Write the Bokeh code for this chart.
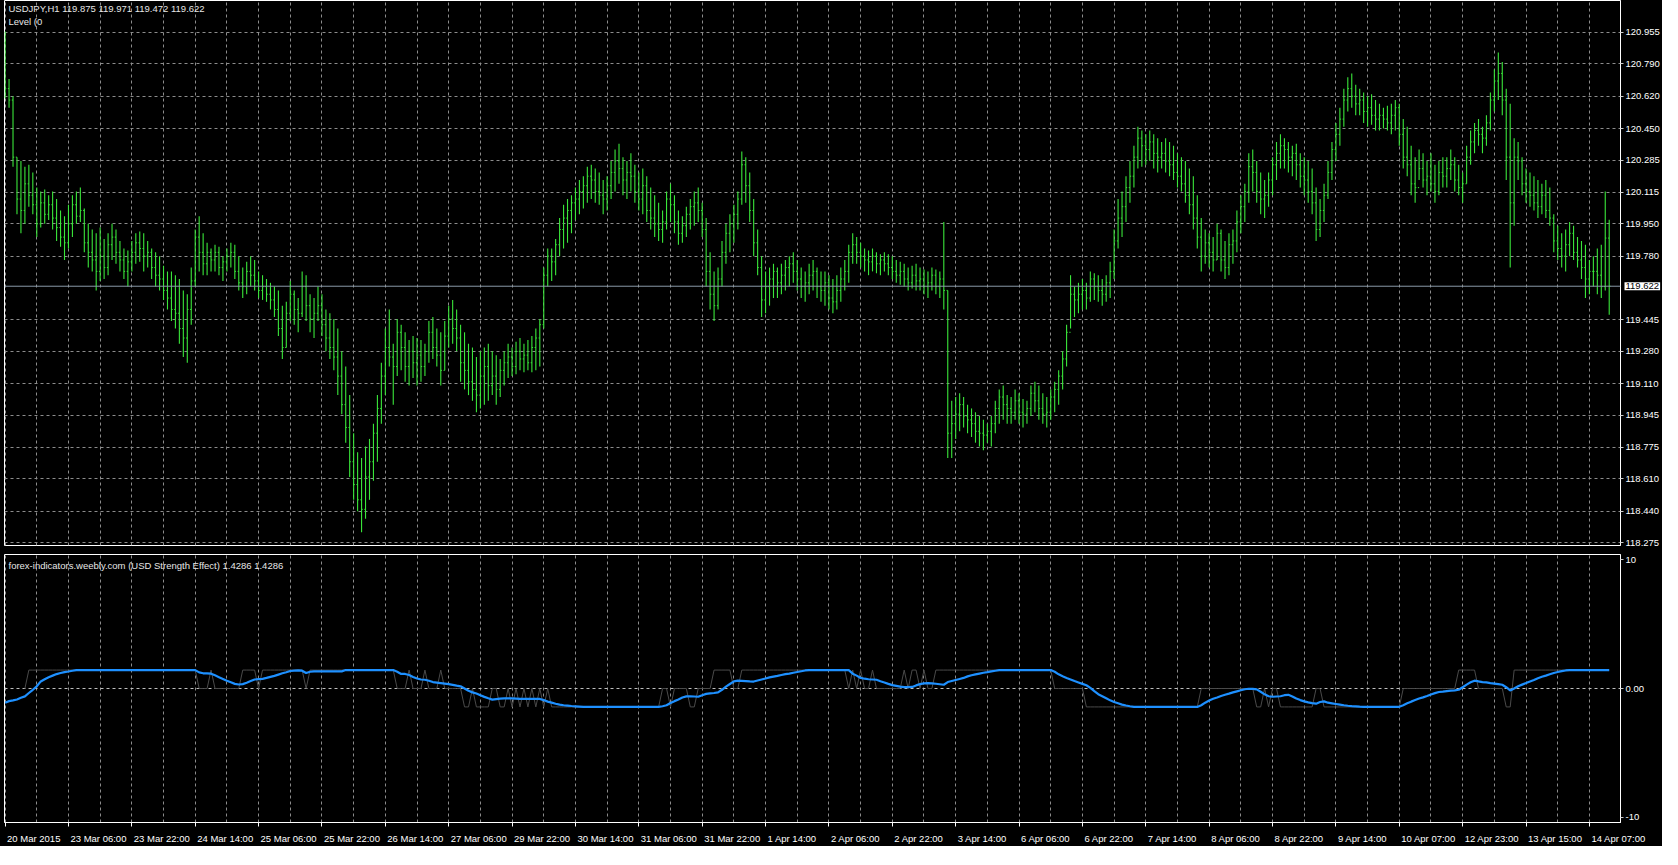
from bokeh.plotting import figure
from bokeh.layouts import column
from bokeh.models import Range1d, FixedTicker, Span, Label, LinearAxis
from bokeh.models import ColumnDataSource
from bokeh.embed import file_html
from bokeh.resources import INLINE

nan = float("nan")

# ---------------- data ----------------
symbol_title = "USDJPY,H1  119.875 119.971 119.472 119.622"
level_title = "Level (0"
indicator_title = "forex-indicators.weebly.com (USD Strength Effect) 1.4286 1.4286"

first_open = 120.90

highs = [
    120.96, 120.71, 120.62, 120.30, 120.28, 120.25, 120.26, 120.22, 120.14, 120.12,
    120.13, 120.10, 120.12, 120.08, 120.02, 119.99, 120.05, 120.10, 120.12, 120.14,
    120.03, 119.95, 119.92, 119.90, 119.93, 119.87, 119.90, 119.95, 119.92, 119.86,
    119.82, 119.81, 119.86, 119.90, 119.91, 119.90, 119.86, 119.82, 119.80, 119.78,
    119.73, 119.70, 119.70, 119.68, 119.66, 119.60, 119.58, 119.72, 119.92, 119.99,
    119.90, 119.85, 119.82, 119.84, 119.83, 119.78, 119.82, 119.85, 119.84, 119.78,
    119.72, 119.75, 119.78, 119.76, 119.70, 119.68, 119.66, 119.64, 119.62, 119.60,
    119.52, 119.54, 119.65, 119.60, 119.56, 119.70, 119.68, 119.58, 119.56, 119.62,
    119.58, 119.50, 119.48, 119.45, 119.40, 119.28, 119.20, 119.05, 118.85, 118.75,
    118.72, 118.78, 118.82, 118.90, 119.05, 119.22, 119.40, 119.50, 119.32, 119.45,
    119.42, 119.38, 119.34, 119.36, 119.35, 119.34, 119.32, 119.44, 119.46, 119.40,
    119.38, 119.44, 119.52, 119.55, 119.50, 119.42, 119.38, 119.32, 119.30, 119.25,
    119.28, 119.30, 119.32, 119.28, 119.26, 119.24, 119.28, 119.32, 119.30, 119.33,
    119.35, 119.32, 119.34, 119.36, 119.40, 119.45, 119.72, 119.82, 119.82, 119.87,
    119.98, 120.05, 120.08, 120.10, 120.14, 120.18, 120.20, 120.25, 120.26, 120.24,
    120.22, 120.18, 120.20, 120.28, 120.34, 120.37, 120.30, 120.28, 120.32, 120.26,
    120.22, 120.24, 120.20, 120.14, 120.10, 120.06, 120.02, 120.12, 120.16, 120.10,
    120.02, 119.99, 120.04, 120.08, 120.12, 120.14, 120.06, 119.98, 119.80, 119.70,
    119.72, 119.86, 119.95, 120.00, 120.05, 120.12, 120.33, 120.30, 120.22, 120.08,
    119.92, 119.78, 119.70, 119.72, 119.74, 119.72, 119.74, 119.76, 119.78, 119.80,
    119.76, 119.72, 119.70, 119.74, 119.76, 119.72, 119.70, 119.70, 119.68, 119.66,
    119.68, 119.72, 119.76, 119.84, 119.90, 119.88, 119.85, 119.82, 119.81, 119.82,
    119.80, 119.79, 119.80, 119.79, 119.78, 119.76, 119.75, 119.74, 119.72, 119.73,
    119.74, 119.72, 119.71, 119.70, 119.72, 119.71, 119.70, 119.96, 119.60, 119.02,
    119.04, 119.06, 119.04, 119.00, 118.98, 118.96, 118.94, 118.92, 118.90, 118.94,
    119.02, 119.08, 119.10, 119.05, 119.04, 119.08, 119.06, 119.03, 119.02, 119.10,
    119.12, 119.10, 119.06, 119.04, 119.08, 119.12, 119.18, 119.28, 119.42, 119.68,
    119.62, 119.64, 119.66, 119.64, 119.70, 119.69, 119.68, 119.66, 119.68, 119.75,
    119.92, 120.08, 120.12, 120.20, 120.28, 120.36, 120.46, 120.44, 120.42, 120.44,
    120.42, 120.40, 120.38, 120.40, 120.38, 120.36, 120.32, 120.30, 120.28, 120.24,
    120.20, 120.10, 119.98, 119.92, 119.90, 119.88, 119.95, 119.92, 119.86, 119.90,
    119.92, 120.02, 120.10, 120.16, 120.32, 120.34, 120.28, 120.22, 120.18, 120.22,
    120.30, 120.38, 120.42, 120.40, 120.38, 120.36, 120.37, 120.32, 120.30, 120.28,
    120.24, 120.14, 120.08, 120.16, 120.28, 120.38, 120.48, 120.56, 120.66, 120.72,
    120.74, 120.68, 120.66, 120.64, 120.62, 120.63, 120.60, 120.58, 120.56, 120.57,
    120.58, 120.60, 120.58, 120.50, 120.46, 120.36, 120.30, 120.34, 120.32, 120.28,
    120.32, 120.26, 120.28, 120.30, 120.30, 120.34, 120.30, 120.26, 120.22, 120.36,
    120.44, 120.48, 120.50, 120.46, 120.52, 120.64, 120.76, 120.85, 120.80, 120.66,
    120.58, 120.40, 120.38, 120.30, 120.24, 120.22, 120.20, 120.18, 120.16, 120.18,
    120.14, 120.00, 119.94, 119.90, 119.92, 119.96, 119.94, 119.88, 119.86, 119.84,
    119.76, 119.78, 119.82, 119.84, 120.12, 119.971,
]

lows = [
    120.61, 120.56, 120.25, 120.00, 119.90, 119.95, 120.04, 120.00, 119.88, 119.93,
    119.95, 119.97, 119.92, 119.86, 119.83, 119.76, 119.82, 119.88, 119.95, 119.96,
    119.80, 119.72, 119.70, 119.60, 119.65, 119.66, 119.68, 119.76, 119.74, 119.70,
    119.66, 119.62, 119.70, 119.74, 119.75, 119.70, 119.72, 119.66, 119.62, 119.60,
    119.55, 119.50, 119.44, 119.40, 119.32, 119.25, 119.22, 119.42, 119.62, 119.70,
    119.68, 119.68, 119.70, 119.70, 119.68, 119.65, 119.70, 119.72, 119.66, 119.60,
    119.56, 119.58, 119.62, 119.60, 119.56, 119.55, 119.54, 119.50, 119.46, 119.36,
    119.24, 119.30, 119.44, 119.42, 119.38, 119.46, 119.44, 119.38, 119.35, 119.44,
    119.36, 119.28, 119.24, 119.18, 119.05, 118.95, 118.80, 118.62, 118.50, 118.44,
    118.33, 118.40, 118.50, 118.60, 118.70, 118.90, 119.05, 119.20, 119.00, 119.15,
    119.18, 119.12, 119.10, 119.14, 119.10, 119.12, 119.15, 119.22, 119.24, 119.20,
    119.10, 119.18, 119.30, 119.32, 119.28, 119.12, 119.08, 119.05, 119.02, 118.96,
    118.98, 119.00, 119.02, 119.05, 119.00, 119.04, 119.10, 119.14, 119.15, 119.16,
    119.18, 119.17, 119.18, 119.17, 119.18, 119.20, 119.40, 119.62, 119.65, 119.68,
    119.78, 119.82, 119.85, 119.90, 119.97, 120.00, 120.03, 120.06, 120.08, 120.06,
    120.05, 120.00, 120.02, 120.08, 120.12, 120.16, 120.10, 120.08, 120.12, 120.06,
    120.02, 120.00, 119.96, 119.92, 119.88, 119.86, 119.85, 119.92, 119.96, 119.90,
    119.84, 119.85, 119.88, 119.92, 119.94, 119.96, 119.88, 119.62, 119.50, 119.44,
    119.50, 119.62, 119.74, 119.80, 119.85, 119.92, 120.05, 120.06, 119.96, 119.78,
    119.68, 119.46, 119.48, 119.52, 119.56, 119.56, 119.58, 119.60, 119.62, 119.64,
    119.60, 119.56, 119.54, 119.58, 119.60, 119.56, 119.54, 119.52, 119.50, 119.48,
    119.50, 119.54, 119.60, 119.64, 119.74, 119.74, 119.72, 119.70, 119.68, 119.70,
    119.69, 119.68, 119.70, 119.68, 119.66, 119.64, 119.63, 119.62, 119.60, 119.61,
    119.60, 119.60, 119.58, 119.56, 119.60, 119.58, 119.56, 119.50, 118.72, 118.72,
    118.82, 118.86, 118.88, 118.85, 118.83, 118.80, 118.78, 118.76, 118.80, 118.78,
    118.85, 118.90, 118.92, 118.90, 118.90, 118.92, 118.90, 118.88, 118.90, 118.94,
    118.96, 118.92, 118.90, 118.88, 118.92, 118.96, 119.00, 119.08, 119.20, 119.40,
    119.46, 119.48, 119.50, 119.50, 119.54, 119.55, 119.54, 119.52, 119.54, 119.56,
    119.66, 119.82, 119.88, 119.96, 120.06, 120.14, 120.24, 120.25, 120.26, 120.28,
    120.24, 120.22, 120.24, 120.22, 120.20, 120.18, 120.14, 120.12, 120.06, 120.00,
    119.92, 119.82, 119.70, 119.74, 119.72, 119.70, 119.76, 119.70, 119.66, 119.68,
    119.74, 119.80, 119.90, 119.96, 120.06, 120.12, 120.06, 120.00, 119.98, 120.04,
    120.10, 120.18, 120.24, 120.24, 120.22, 120.20, 120.18, 120.14, 120.10, 120.06,
    120.00, 119.86, 119.88, 119.96, 120.08, 120.18, 120.28, 120.36, 120.46, 120.54,
    120.56, 120.52, 120.52, 120.48, 120.46, 120.47, 120.44, 120.44, 120.45, 120.44,
    120.42, 120.44, 120.36, 120.24, 120.20, 120.10, 120.06, 120.18, 120.14, 120.10,
    120.12, 120.06, 120.10, 120.14, 120.14, 120.18, 120.12, 120.10, 120.06, 120.16,
    120.26, 120.32, 120.36, 120.32, 120.36, 120.44, 120.54, 120.60, 120.52, 120.18,
    119.72, 119.94, 120.18, 120.10, 120.06, 120.04, 120.02, 119.98, 120.00, 119.98,
    119.94, 119.80, 119.76, 119.72, 119.70, 119.78, 119.76, 119.72, 119.66, 119.56,
    119.58, 119.62, 119.58, 119.56, 119.60, 119.472,
]

closes = [
    120.66, 120.60, 120.30, 120.08, 120.02, 120.16, 120.10, 120.05, 119.95, 120.06,
    120.00, 120.05, 119.98, 119.93, 119.88, 119.85, 119.95, 120.05, 119.99, 120.02,
    119.85, 119.80, 119.76, 119.70, 119.78, 119.72, 119.84, 119.88, 119.80, 119.76,
    119.70, 119.75, 119.80, 119.85, 119.82, 119.78, 119.80, 119.72, 119.68, 119.66,
    119.60, 119.56, 119.50, 119.48, 119.40, 119.35, 119.50, 119.65, 119.88, 119.80,
    119.74, 119.80, 119.76, 119.80, 119.72, 119.75, 119.78, 119.80, 119.70, 119.64,
    119.62, 119.70, 119.68, 119.65, 119.60, 119.62, 119.58, 119.55, 119.50, 119.40,
    119.30, 119.48, 119.58, 119.50, 119.48, 119.62, 119.52, 119.45, 119.48, 119.52,
    119.42, 119.35, 119.30, 119.25, 119.15, 119.00, 118.88, 118.70, 118.58, 118.50,
    118.45, 118.62, 118.70, 118.85, 118.98, 119.15, 119.30, 119.25, 119.20, 119.38,
    119.30, 119.20, 119.28, 119.22, 119.26, 119.20, 119.28, 119.38, 119.30, 119.26,
    119.18, 119.36, 119.45, 119.40, 119.35, 119.22, 119.18, 119.12, 119.08, 119.05,
    119.15, 119.20, 119.10, 119.15, 119.08, 119.18, 119.22, 119.25, 119.20, 119.28,
    119.24, 119.26, 119.22, 119.30, 119.35, 119.42, 119.68, 119.78, 119.75, 119.84,
    119.92, 119.98, 120.02, 120.06, 120.08, 120.12, 120.15, 120.20, 120.18, 120.12,
    120.10, 120.08, 120.15, 120.22, 120.28, 120.24, 120.18, 120.22, 120.20, 120.12,
    120.08, 120.15, 120.02, 119.98, 119.95, 119.92, 119.96, 120.08, 120.05, 119.96,
    119.90, 119.94, 120.00, 120.04, 120.06, 120.02, 119.92, 119.70, 119.58, 119.52,
    119.66, 119.80, 119.90, 119.95, 120.00, 120.08, 120.26, 120.15, 120.02, 119.85,
    119.72, 119.55, 119.62, 119.66, 119.70, 119.64, 119.68, 119.72, 119.74, 119.70,
    119.66, 119.62, 119.64, 119.68, 119.70, 119.62, 119.60, 119.64, 119.56, 119.54,
    119.60, 119.66, 119.70, 119.80, 119.84, 119.80, 119.78, 119.76, 119.75, 119.78,
    119.74, 119.76, 119.74, 119.72, 119.70, 119.68, 119.70, 119.66, 119.64, 119.68,
    119.65, 119.66, 119.62, 119.64, 119.68, 119.62, 119.66, 119.60, 118.85, 118.90,
    118.95, 119.00, 118.94, 118.92, 118.90, 118.86, 118.85, 118.84, 118.86, 118.90,
    118.98, 119.04, 119.00, 118.98, 118.96, 119.02, 118.96, 118.95, 118.98, 119.06,
    119.02, 118.98, 118.95, 118.96, 119.04, 119.08, 119.15, 119.24, 119.38, 119.58,
    119.55, 119.58, 119.60, 119.56, 119.66, 119.62, 119.60, 119.58, 119.64, 119.70,
    119.86, 119.98, 120.04, 120.14, 120.20, 120.30, 120.40, 120.36, 120.34, 120.38,
    120.32, 120.30, 120.32, 120.28, 120.26, 120.22, 120.20, 120.16, 120.10, 120.05,
    119.98, 119.88, 119.78, 119.85, 119.80, 119.76, 119.90, 119.76, 119.72, 119.84,
    119.86, 119.96, 120.04, 120.12, 120.25, 120.22, 120.12, 120.08, 120.10, 120.18,
    120.26, 120.32, 120.36, 120.34, 120.30, 120.32, 120.26, 120.20, 120.18, 120.12,
    120.06, 119.92, 120.02, 120.10, 120.22, 120.34, 120.42, 120.50, 120.60, 120.66,
    120.62, 120.58, 120.60, 120.54, 120.56, 120.52, 120.50, 120.52, 120.50, 120.48,
    120.52, 120.56, 120.42, 120.30, 120.26, 120.16, 120.14, 120.24, 120.18, 120.20,
    120.16, 120.12, 120.22, 120.20, 120.24, 120.26, 120.18, 120.14, 120.16, 120.30,
    120.38, 120.44, 120.42, 120.40, 120.48, 120.60, 120.70, 120.74, 120.60, 120.30,
    120.06, 120.30, 120.28, 120.16, 120.12, 120.10, 120.06, 120.04, 120.10, 120.02,
    119.98, 119.86, 119.82, 119.78, 119.84, 119.90, 119.80, 119.76, 119.72, 119.66,
    119.70, 119.70, 119.68, 119.62, 119.875, 119.622,
]

# USD Strength Effect: smoothed line (blue) and raw line (grey)
usd_strength = [
    -1.10, -0.98, -0.92, -0.85, -0.72, -0.61, -0.35, -0.10, 0.17, 0.55,
    0.72, 0.88, 1.00, 1.12, 1.20, 1.27, 1.32, 1.38, 1.43, 1.43,
    1.43, 1.43, 1.43, 1.43, 1.43, 1.43, 1.43, 1.43, 1.43, 1.43,
    1.43, 1.43, 1.43, 1.43, 1.43, 1.43, 1.43, 1.43, 1.43, 1.43,
    1.43, 1.43, 1.43, 1.43, 1.43, 1.43, 1.43, 1.43, 1.43, 1.25,
    1.18, 1.18, 1.15, 1.02, 0.88, 0.74, 0.60, 0.48, 0.36, 0.31,
    0.34, 0.45, 0.58, 0.70, 0.73, 0.75, 0.82, 0.90, 0.98, 1.08,
    1.18, 1.26, 1.36, 1.38, 1.40, 1.38, 1.20, 1.30, 1.33, 1.33,
    1.33, 1.33, 1.33, 1.33, 1.33, 1.33, 1.43, 1.43, 1.43, 1.43,
    1.43, 1.43, 1.43, 1.43, 1.43, 1.43, 1.43, 1.43, 1.43, 1.30,
    1.13, 1.13, 1.05, 0.90, 0.78, 0.70, 0.68, 0.60, 0.50, 0.46,
    0.42, 0.38, 0.34, 0.28, 0.22, 0.17, 0.00, -0.18, -0.30, -0.39,
    -0.52, -0.65, -0.76, -0.86, -0.82, -0.78, -0.76, -0.76, -0.76, -0.78,
    -0.80, -0.80, -0.81, -0.81, -0.81, -0.81, -0.90, -1.02, -1.10, -1.18,
    -1.25, -1.30, -1.33, -1.36, -1.38, -1.40, -1.42, -1.43, -1.43, -1.43,
    -1.43, -1.43, -1.43, -1.43, -1.43, -1.43, -1.43, -1.43, -1.43, -1.43,
    -1.43, -1.43, -1.43, -1.43, -1.43, -1.43, -1.38, -1.30, -1.12, -0.98,
    -0.85, -0.70, -0.61, -0.61, -0.62, -0.64, -0.52, -0.42, -0.38, -0.35,
    -0.30, -0.10, 0.15, 0.35, 0.55, 0.61, 0.59, 0.57, 0.55, 0.54,
    0.62, 0.70, 0.78, 0.86, 0.92, 0.98, 1.05, 1.12, 1.16, 1.22,
    1.28, 1.34, 1.40, 1.43, 1.43, 1.43, 1.43, 1.43, 1.43, 1.43,
    1.43, 1.43, 1.43, 1.43, 1.15, 1.00, 0.82, 0.76, 0.72, 0.70,
    0.68, 0.56, 0.47, 0.36, 0.26, 0.20, 0.14, 0.10, 0.10, 0.12,
    0.24, 0.34, 0.40, 0.42, 0.40, 0.37, 0.33, 0.29, 0.50, 0.58,
    0.66, 0.74, 0.82, 0.94, 1.03, 1.10, 1.16, 1.22, 1.27, 1.33,
    1.38, 1.43, 1.43, 1.43, 1.43, 1.43, 1.43, 1.43, 1.43, 1.43,
    1.43, 1.43, 1.43, 1.43, 1.43, 1.30, 1.10, 0.95, 0.82, 0.70,
    0.58, 0.47, 0.36, 0.25, 0.05, -0.20, -0.44, -0.60, -0.76, -0.92,
    -1.05, -1.15, -1.25, -1.32, -1.38, -1.42, -1.43, -1.43, -1.43, -1.43,
    -1.43, -1.43, -1.43, -1.43, -1.43, -1.43, -1.43, -1.43, -1.43, -1.43,
    -1.43, -1.43, -1.30, -1.10, -0.93, -0.80, -0.70, -0.58, -0.49, -0.40,
    -0.30, -0.22, -0.14, -0.06, -0.02, -0.03, -0.07, -0.25, -0.45, -0.60,
    -0.64, -0.62, -0.60, -0.52, -0.49, -0.62, -0.78, -0.90, -1.00, -1.08,
    -1.14, -1.18, -1.05, -1.00, -1.10, -1.15, -1.20, -1.25, -1.30, -1.34,
    -1.37, -1.39, -1.41, -1.42, -1.42, -1.42, -1.42, -1.42, -1.42, -1.42,
    -1.42, -1.42, -1.42, -1.30, -1.15, -1.02, -0.90, -0.78, -0.69, -0.58,
    -0.46, -0.36, -0.27, -0.24, -0.20, -0.17, -0.15, -0.10, 0.10, 0.30,
    0.48, 0.61, 0.55, 0.50, 0.47, 0.42, 0.38, 0.34, 0.29, 0.10,
    -0.15, 0.00, 0.17, 0.30, 0.42, 0.55, 0.66, 0.80, 0.91, 1.00,
    1.10, 1.20, 1.28, 1.35, 1.40, 1.43, 1.43, 1.43, 1.43, 1.43,
    1.43, 1.43, 1.43, 1.43, 1.43, 1.43,
]

usd_raw = [
    nan, nan, nan, nan, nan, 0.0, 1.43, 1.43, 1.43, 1.43,
    1.43, 1.43, 1.43, 1.43, 1.43, 1.43, 1.43, 1.43, 1.43, 1.43,
    1.43, 1.43, 1.43, 1.43, 1.43, 1.43, 1.43, 1.43, 1.43, 1.43,
    1.43, 1.43, 1.43, 1.43, 1.43, 1.43, 1.43, 1.43, 1.43, 1.43,
    1.43, 1.43, 1.43, 1.43, 1.43, 1.43, 1.43, 1.43, 1.43, 0.0,
    0.0, 0.0, 1.43, 0.0, 0.0, 0.0, 0.0, 0.0, 0.0, 0.0,
    1.43, 1.43, 1.43, 1.43, 0.0, 1.43, 1.43, 1.43, 1.43, 1.43,
    1.43, 1.43, 1.43, 1.43, 1.43, 1.43, 0.0, 1.43, 1.43, 1.43,
    1.43, 1.43, 1.43, 1.43, 1.43, 1.43, 1.43, 1.43, 1.43, 1.43,
    1.43, 1.43, 1.43, 1.43, 1.43, 1.43, 1.43, 1.43, 1.43, 0.0,
    0.0, 0.0, 1.43, 0.0, 0.0, 0.0, 1.43, 0.0, 0.0, 0.0,
    1.43, 0.0, 0.0, 0.0, 0.0, 0.0, -1.43, -1.43, 0.0, -1.43,
    -1.43, -1.43, -1.43, 0.0, 0.0, -1.43, -1.43, 0.0, -1.43, 0.0,
    -1.43, 0.0, -1.43, 0.0, -1.43, 0.0, -1.43, 0.0, -1.43, -1.43,
    -1.43, -1.43, -1.43, -1.43, -1.43, -1.43, -1.43, -1.43, -1.43, -1.43,
    -1.43, -1.43, -1.43, -1.43, -1.43, -1.43, -1.43, -1.43, -1.43, -1.43,
    -1.43, -1.43, -1.43, -1.43, -1.43, -1.43, 0.0, 0.0, -1.43, 0.0,
    0.0, 0.0, 0.0, -1.43, -1.43, 0.0, 0.0, 0.0, 0.0, 1.43,
    1.43, 1.43, 1.43, 1.43, 0.0, 0.0, 1.43, 1.43, 1.43, 1.43,
    1.43, 1.43, 1.43, 1.43, 1.43, 1.43, 1.43, 1.43, 1.43, 1.43,
    1.43, 1.43, 1.43, 1.43, 1.43, 1.43, 1.43, 1.43, 1.43, 1.43,
    1.43, 1.43, 1.43, 0.0, 1.43, 0.0, 1.43, 0.0, 0.0, 1.43,
    0.0, 0.0, 0.0, 0.0, 0.0, 0.0, 0.0, 1.43, 0.0, 1.43,
    1.43, 0.0, 1.43, 0.0, 0.0, 1.43, 1.43, 1.43, 1.43, 1.43,
    1.43, 1.43, 1.43, 1.43, 1.43, 1.43, 1.43, 1.43, 1.43, 1.43,
    1.43, 1.43, 1.43, 1.43, 1.43, 1.43, 1.43, 1.43, 1.43, 1.43,
    1.43, 1.43, 1.43, 1.43, 1.43, 0.0, 0.0, 0.0, 0.0, 0.0,
    0.0, 0.0, 0.0, -1.43, -1.43, -1.43, -1.43, -1.43, -1.43, -1.43,
    -1.43, -1.43, -1.43, -1.43, -1.43, -1.43, -1.43, -1.43, -1.43, -1.43,
    -1.43, -1.43, -1.43, -1.43, -1.43, -1.43, -1.43, -1.43, -1.43, -1.43,
    -1.43, -1.43, 0.0, 0.0, 0.0, 0.0, 0.0, 0.0, 0.0, 0.0,
    0.0, 0.0, 0.0, 0.0, 0.0, 0.0, -1.43, -1.43, 0.0, -1.43,
    0.0, 0.0, -1.43, -1.43, -1.43, -1.43, -1.43, -1.43, -1.43, -1.43,
    -1.43, 0.0, 0.0, -1.43, -1.43, -1.43, -1.43, -1.43, -1.43, -1.43,
    -1.43, -1.43, -1.43, -1.43, -1.43, -1.43, -1.43, -1.43, -1.43, -1.43,
    -1.43, -1.43, -1.43, 0.0, 0.0, 0.0, 0.0, 0.0, 0.0, 0.0,
    0.0, 0.0, 0.0, 0.0, 0.0, 0.0, 0.0, 1.43, 1.43, 1.43,
    1.43, 1.43, 0.0, 0.0, 0.0, 0.0, 0.0, 0.0, 0.0, -1.43,
    -1.43, 1.43, 1.43, 1.43, 1.43, 1.43, 1.43, 1.43, 1.43, 1.43,
    1.43, 1.43, 1.43, 1.43, 1.43, 1.43, 1.43, 1.43, 1.43, 1.43,
    1.43, 1.43, 1.43, 1.43, 1.43, 1.43,
]

price_ticks = [120.955, 120.790, 120.620, 120.450, 120.285, 120.115, 119.950, 119.780,
               119.445, 119.280, 119.110, 118.945, 118.775, 118.610, 118.440, 118.275]
price_tick_labels = ["120.955", "120.790", "120.620", "120.450", "120.285", "120.115", "119.950",
                     "119.780", "119.445", "119.280", "119.110", "118.945", "118.775", "118.610",
                     "118.440", "118.275"]

date_labels = ["20 Mar 2015", "23 Mar 06:00", "23 Mar 22:00", "24 Mar 14:00", "25 Mar 06:00",
               "25 Mar 22:00", "26 Mar 14:00", "27 Mar 06:00", "29 Mar 22:00", "30 Mar 14:00",
               "31 Mar 06:00", "31 Mar 22:00", "1 Apr 14:00", "2 Apr 06:00", "2 Apr 22:00",
               "3 Apr 14:00", "6 Apr 06:00", "6 Apr 22:00", "7 Apr 14:00", "8 Apr 06:00",
               "8 Apr 22:00", "9 Apr 14:00", "10 Apr 07:00", "12 Apr 23:00", "13 Apr 15:00",
               "14 Apr 07:00"]

ind_ticks = [10, 0, -10]
ind_tick_labels = ["10", "0.00", "-10"]

# ---------------- checks ----------------
n = len(closes)
for name, arr in [("highs", highs), ("lows", lows), ("usd_strength", usd_strength), ("usd_raw", usd_raw)]:
    if len(arr) != n:
        raise SystemExit(f"length mismatch {name}: {len(arr)} vs {n}")

# ---------------- style ----------------
FONT = "Liberation Sans"
FS_PX = 9.5
FS = f"{FS_PX}px"
BG = "#000000"
GREEN = "#3ae63a"
GRID = "#8c8c8c"
BLUE = "#1e90ff"
RAW = "#4a4a4a"
BARS_PER_LABEL = 16
BARS_PER_GRID = 8
FRAME_W = 1616

idx = list(range(n))
opens = [first_open] + closes[:-1]
src = ColumnDataSource(dict(
    x=idx, xl=[i - 0.3 for i in idx], xr=[i + 0.3 for i in idx],
    o=opens, h=highs, l=lows, c=closes, s=usd_strength, r=usd_raw,
))

label_bars = [i * BARS_PER_LABEL for i in range(len(date_labels))]
grid_bars = list(range(0, n + BARS_PER_GRID, BARS_PER_GRID))

x_range = Range1d(-0.15, n + 1.85)
px_per_bar = FRAME_W / (x_range.end - x_range.start)

# approximate advance widths (em) of Liberation Sans, used to left-align date labels at their ticks
_w = {" ": 0.278, ":": 0.278, "M": 0.833, "A": 0.667, "a": 0.556, "r": 0.333, "p": 0.556}


def text_px(s):
    return sum(_w.get(ch, 0.556) for ch in s) * FS_PX


label_centers = [round(b + (2 + text_px(t) / 2) / px_per_bar, 3) for b, t in zip(label_bars, date_labels)]


def style_common(p):
    p.background_fill_color = BG
    p.border_fill_color = BG
    p.outline_line_color = "white"
    p.outline_line_width = 1
    p.yaxis.axis_line_color = "white"
    p.yaxis.major_tick_line_color = "#c8c8c8"
    p.yaxis.major_tick_out = 3
    p.yaxis.major_tick_in = 0
    p.yaxis.minor_tick_line_color = None
    p.yaxis.major_label_text_color = "white"
    p.yaxis.major_label_text_font = FONT
    p.yaxis.major_label_text_font_size = FS
    p.yaxis.major_label_standoff = 2
    p.xgrid.ticker = FixedTicker(ticks=grid_bars)
    p.xgrid.grid_line_color = GRID
    p.xgrid.grid_line_dash = "3 3"
    p.xgrid.grid_line_width = 1


# ---------------- main price panel ----------------
p1 = figure(frame_width=FRAME_W, frame_height=545, x_range=x_range,
            y_range=Range1d(118.26, 121.123), output_backend="svg", toolbar_location=None,
            x_axis_location=None, y_axis_location="right",
            min_border_left=4, min_border_right=42, min_border_top=0, min_border_bottom=0)
style_common(p1)
p1.yaxis.ticker = FixedTicker(ticks=price_ticks)
p1.yaxis.major_label_overrides = {t: s for t, s in zip(price_ticks, price_tick_labels)}
p1.ygrid.ticker = FixedTicker(ticks=price_ticks)
p1.ygrid.grid_line_color = GRID
p1.ygrid.grid_line_dash = "3 3"

p1.segment(x0="x", y0="l", x1="x", y1="h", source=src, line_color=GREEN, line_width=1.1)
p1.segment(x0="xl", y0="o", x1="x", y1="o", source=src, line_color=GREEN, line_width=1)
p1.segment(x0="x", y0="c", x1="xr", y1="c", source=src, line_color=GREEN, line_width=1)

last_close = closes[-1]
p1.add_layout(Span(location=last_close, dimension="width", line_color="#8a99a8", line_width=1))
p1.add_layout(Label(x=x_range.start, y=121.123, x_offset=4, y_offset=-2, text=symbol_title,
                    text_baseline="top", text_color="#e6e6e6", text_font=FONT, text_font_size=FS))
p1.add_layout(Label(x=x_range.start, y=121.123, x_offset=4, y_offset=-15, text=level_title,
                    text_baseline="top", text_color="#e6e6e6", text_font=FONT, text_font_size=FS))
# current price marker on the price scale (side panel so it is not clipped to the frame)
p1.add_layout(Label(x=x_range.end, y=last_close, x_offset=4, text=f"{last_close:.3f}",
                    text_baseline="middle", text_color="black", text_font=FONT,
                    text_font_size=FS, background_fill_color="white", padding=1), "below")

# ---------------- indicator panel ----------------
p2 = figure(frame_width=FRAME_W, frame_height=268, x_range=x_range,
            y_range=Range1d(-10.4, 10.4), output_backend="svg", toolbar_location=None,
            x_axis_location="below", y_axis_location="right",
            min_border_left=4, min_border_right=42, min_border_top=1, min_border_bottom=21)
style_common(p2)
p2.yaxis.ticker = FixedTicker(ticks=ind_ticks)
p2.yaxis.major_label_overrides = {t: s for t, s in zip(ind_ticks, ind_tick_labels)}
p2.ygrid.ticker = FixedTicker(ticks=[0])
p2.ygrid.grid_line_color = "#bdbdbd"
p2.ygrid.grid_line_dash = "3 3"

tick_axis = p2.xaxis[0]
tick_axis.ticker = FixedTicker(ticks=label_bars)
tick_axis.major_label_overrides = {b: "" for b in label_bars}
tick_axis.major_label_text_font_size = "0px"
tick_axis.major_label_standoff = 0
tick_axis.axis_line_color = "white"
tick_axis.major_tick_line_color = "white"
tick_axis.major_tick_out = 4
tick_axis.major_tick_in = 0
tick_axis.minor_tick_line_color = None

date_axis = LinearAxis(ticker=FixedTicker(ticks=label_centers),
                       major_label_overrides={c: t for c, t in zip(label_centers, date_labels)},
                       axis_line_color=None, major_tick_line_color=None, minor_tick_line_color=None,
                       major_label_standoff=0, major_label_text_color="white",
                       major_label_text_font=FONT, major_label_text_font_size=FS)
p2.add_layout(date_axis, "below")

p2.line(x="x", y="r", source=src, line_color=RAW, line_width=1)
p2.line(x="x", y="s", source=src, line_color=BLUE, line_width=2.2)

p2.add_layout(Label(x=x_range.start, y=10.4, x_offset=4, y_offset=-5, text=indicator_title,
                    text_baseline="top", text_color="#e6e6e6", text_font=FONT, text_font_size=FS))

layout = column(p1, p2, spacing=0, background="black")
open("out.html", "w").write(file_html(layout, INLINE))
